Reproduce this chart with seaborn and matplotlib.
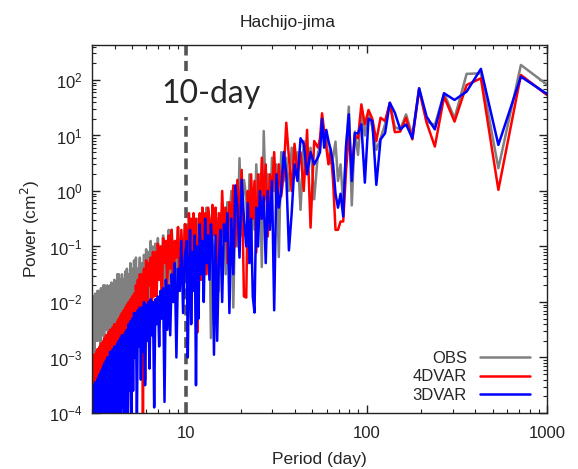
import numpy as np
import pandas as pd
import matplotlib
matplotlib.use("Agg")
import matplotlib.pyplot as plt
from matplotlib.ticker import NullFormatter
import seaborn as sns

# harmonic numbers of the spectrum (record length ~2150 days)
record_days = 2150
harmonics = (list(range(2, 41)) + list(range(42, 101, 2))
             + list(range(103, 215, 3)) + list(range(219, 715, 5)))

# log10 of power (cm^2)
obs_log = [
    1.84, 2.27, 0.41, 2.12, 2.11, 1.31, 1.76, 1.19, 1.25, 1.85,
    1.00, 1.38, 1.11, 1.15, 1.59, 1.20, 0.95, 0.74, 1.15, 1.40,
    1.00, 1.45, 0.65, 1.07, -0.26, 1.52, 0.70, -0.22, 0.48, 0.18,
    0.89, 0.60, 0.50, 0.50, 1.00, 0.90, 1.30, 0.78, 0.70,
    # k 42..100 step 2
    -0.15, 0.78, 0.48, 0.90, -0.34, 0.70, 0.30, 0.78, 0.00, 0.60,
    0.18, 0.70, -1.19, 0.48, 0.00, 0.60, -0.50, 0.30, -0.15, 1.08,
    -1.37, 0.30, -0.30, 0.48, -0.70, 0.00, -1.00, 0.30, -1.30, -0.10,
    # k 103..214 step 3
    0.20, -0.80, 0.59, -1.00, -0.30, -2.10, 0.00, -0.60, -0.20, -1.50,
    -0.30, -0.90, -0.40, -1.80, -0.50, -1.00, -2.40, -0.50, -2.65, -0.60,
    -1.20, -0.30, -1.50, -0.80, -0.40, -1.60, -0.70, -1.10, -0.50, -2.00,
    -0.90, -1.40, -0.60, -1.70, -1.00, -1.30, -0.80, -1.50,
    # k 219..714 step 5
    -0.60, -1.50, -0.80, -1.20, -0.65, -1.70, -0.90, -1.30, -0.70, -1.90,
    -0.70, -1.40, -0.90, -2.00, -0.80, -1.30, -1.00, -1.60, -0.85, -1.50,
    -0.95, -1.80, -1.00, -1.50, -0.90, -2.10, -1.10, -1.60, -1.05, -1.90,
    -1.15, -1.90, -1.30, -2.20, -1.20, -1.70, -1.40, -2.30, -1.20, -1.80,
    -1.25, -2.00, -1.40, -2.40, -1.30, -1.90, -1.50, -2.20, -1.40, -2.50,
    -1.45, -2.30, -1.60, -2.10, -1.50, -2.60, -1.60, -2.20, -1.50, -2.40,
    -1.50, -2.50, -1.70, -2.20, -1.60, -2.70, -1.75, -2.30, -1.65, -2.60,
    -1.70, -2.40, -1.90, -2.80, -1.70, -2.50, -1.80, -2.30, -1.70, -2.90,
    -1.70, -2.60, -1.90, -2.40, -1.75, -2.80, -1.85, -2.50, -1.80, -2.70,
    -1.80, -2.70, -1.95, -2.50, -1.85, -3.00, -1.90, -2.60, -1.95, -2.80,
]
var4d_log = [
    1.65, 2.09, 0.02, 2.03, 1.91, 1.25, 1.70, 0.80, 1.23, 1.83,
    0.93, 1.32, 1.07, 1.06, 1.58, 1.26, 1.32, 0.90, 1.30, 1.46,
    1.20, 1.56, 0.95, 1.00, 0.36, 1.04, 0.34, -0.55, -0.55, -0.70,
    -0.70, 0.18, 0.74, 0.48, 0.78, 1.08, 1.40, 0.95, 0.78,
    # k 42..100 step 2
    0.90, -0.66, 1.10, 0.00, 0.70, 0.30, 0.85, 0.00, 0.60, 1.23,
    0.30, -0.10, 0.48, -0.30, 0.70, 0.00, 0.30, -0.82, 0.48, -0.22,
    0.60, -0.50, 0.30, -1.11, 0.18, -0.50, 0.30, -1.00, 0.00, -1.92,
    # k 103..214 step 3
    -1.90, 0.38, -0.50, 0.20, -1.00, 0.10, -0.60, -0.20, -1.30, -0.30,
    -0.80, 0.00, -1.00, -0.40, -1.50, -0.30, -0.80, -0.25, -1.20, -0.50,
    -0.30, -1.50, -0.40, -0.90, -0.30, -1.60, -0.40, -1.10, -2.55, -0.50,
    -0.90, -0.40, -1.40, -0.50, -1.00, -0.40, -1.70, -0.70,
    # k 219..714 step 5
    -0.60, -1.50, -0.70, -1.80, -0.65, -1.20, -0.90, -2.00, -0.70, -1.40,
    -0.80, -1.70, -0.90, -1.30, -0.85, -2.10, -1.00, -1.60, -0.95, -1.90,
    -1.10, -1.90, -1.10, -2.30, -1.20, -1.70, -1.30, -2.20, -1.25, -3.40,
    -1.40, -4.20, -1.50, -2.30, -1.50, -2.60, -1.60, -2.40, -1.70, -2.80,
    -1.85, -2.70, -1.90, -3.00, -1.95, -2.60, -2.00, -3.10, -2.05, -2.80,
    -2.10, -3.00, -2.15, -3.30, -2.20, -2.90, -2.25, -3.20, -2.30, -3.40,
    -2.35, -3.20, -2.40, -3.50, -2.40, -3.10, -2.45, -3.60, -2.50, -3.30,
    -2.50, -3.50, -2.55, -3.30, -2.60, -3.70, -2.60, -3.40, -2.65, -3.60,
    -2.70, -3.60, -2.75, -3.90, -2.75, -3.50, -2.80, -3.80, -2.85, -3.60,
    -2.85, -3.80, -2.90, -3.60, -2.95, -4.00, -2.95, -3.70, -3.00, -3.80,
]
var3d_log = [
    1.68, 2.06, 0.83, 2.20, 1.79, 1.64, 1.76, 1.11, 1.34, 1.85,
    0.95, 1.20, 1.11, 1.41, 1.59, 1.04, 0.93, 0.11, 1.26, 1.30,
    0.15, 1.20, 1.04, 1.04, 0.18, 1.38, 0.80, -0.46, -0.05, -0.30,
    -0.05, 0.48, 0.74, 0.90, 1.10, 0.78, 1.30, 0.70, 0.61,
    # k 42..100 step 2
    0.48, 0.70, 0.30, 0.85, 0.95, 0.18, 0.48, -0.40, -1.07, 0.30,
    0.70, 0.00, -0.30, 0.30, -2.15, 0.18, -0.70, 0.00, -1.30, -0.10,
    -0.50, 0.00, -1.00, -0.30, -2.19, -1.90, -0.50, -1.30, -0.22, -1.00,
    # k 103..214 step 3
    -0.50, 0.20, -1.20, -0.30, 0.10, -1.50, -0.50, -2.20, -0.40, -0.90,
    -0.60, -2.00, -0.70, -1.30, -2.70, -0.80, -2.95, -1.00, -0.60, -1.60,
    -0.80, -1.30, -0.50, -2.00, -0.90, -1.50, -0.60, -2.30, -1.00, -3.50,
    -0.80, -1.80, -1.10, -2.40, -0.70, -1.60, -3.00, -0.90,
    # k 219..714 step 5
    -1.20, -2.20, -0.90, -1.80, -1.40, -3.00, -1.30, -2.00, -1.50, -2.60,
    -1.70, -2.50, -1.60, -3.80, -1.75, -2.30, -1.80, -2.80, -1.90, -2.40,
    -1.95, -3.90, -2.00, -2.60, -1.95, -3.20, -2.00, -2.70, -2.05, -3.50,
    -2.00, -2.90, -2.10, -3.40, -2.10, -2.80, -2.15, -4.20, -2.20, -3.00,
    -2.20, -3.60, -2.30, -4.30, -2.35, -3.60, -2.40, -4.60, -2.50, -4.30,
    -2.55, -4.40, -2.60, -3.90, -2.60, -4.70, -2.65, -4.20, -2.70, -4.80,
    -2.75, -4.30, -2.80, -4.90, -2.80, -4.40, -2.85, -4.60, -2.90, -5.00,
    -2.90, -4.50, -3.00, -4.80, -3.00, -4.40, -3.05, -5.00, -3.10, -4.60,
    -3.15, -4.90, -3.20, -4.50, -3.25, -5.00, -3.30, -4.70, -3.35, -5.00,
    -3.40, -4.80, -3.45, -5.00, -3.45, -4.70, -3.50, -5.00, -3.55, -4.90,
]

series_names = ["OBS", "4DVAR", "3DVAR"]
series_colors = ["#808080", "#ff0000", "#0000ff"]

period = record_days / np.array(harmonics, dtype=float)
frames = []
for name, vals in zip(series_names, [obs_log, var4d_log, var3d_log]):
    frames.append(pd.DataFrame({
        "Period": period,
        "Power": 10.0 ** np.array(vals),
        "Run": name,
    }))
df = pd.concat(frames, ignore_index=True)

sns.set_theme(style="ticks")
plt.rcParams["font.family"] = ["Liberation Sans", "DejaVu Sans"]

fig = plt.figure(figsize=(5.78, 4.69), dpi=100)
ax = fig.add_axes([92 / 578, 56 / 469, 455 / 578, 368 / 469])

sns.lineplot(data=df, x="Period", y="Power", hue="Run", hue_order=series_names,
             palette=series_colors, estimator=None, sort=True, linewidth=1.8,
             ax=ax)

ax.set_xscale("log")
ax.set_yscale("log")
ax.set_xlim(3, 1000)
ax.set_ylim(1e-4, 10 ** 2.63)
ax.set_xticks([10, 100, 1000], labels=["10", "100", "1000"])
ax.xaxis.set_minor_formatter(NullFormatter())

# 10-day marker
ax.axvline(10, color="#555555", linestyle=(0, (3, 1.5)), linewidth=2.6, zorder=1)
ax.text(13.7, 56, "10-day", fontsize=23, family=["Lato", "DejaVu Sans"],
        ha="center", va="center", zorder=5,
        bbox=dict(facecolor="white", edgecolor="none", pad=6))

ax.tick_params(which="both", direction="in", top=True, right=True,
               labelsize=12, colors="#222222")
ax.tick_params(axis="x", which="major", pad=9)
ax.tick_params(axis="y", which="major", pad=7)
ax.tick_params(which="major", length=6, width=1)
ax.tick_params(which="minor", length=3, width=0.8)
for sp in ax.spines.values():
    sp.set_linewidth(1.0)
    sp.set_color("#222222")

ax.set_xlabel("Period (day)", fontsize=12.5, labelpad=8)
ax.set_ylabel("Power (cm$^2$)", fontsize=12.5, labelpad=5)
fig.text(288 / 578, 1 - 22 / 469, "Hachijo-jima", fontsize=12.5,
         ha="center", va="center", color="#222222")

handles, labels = ax.get_legend_handles_labels()
ax.legend(handles, labels, loc="lower right", markerfirst=False, frameon=False,
          fontsize=12, handlelength=3.0, labelspacing=0.22,
          borderaxespad=0.2, bbox_to_anchor=(0.985, 0.0))

fig.savefig("out.png", dpi=100)
